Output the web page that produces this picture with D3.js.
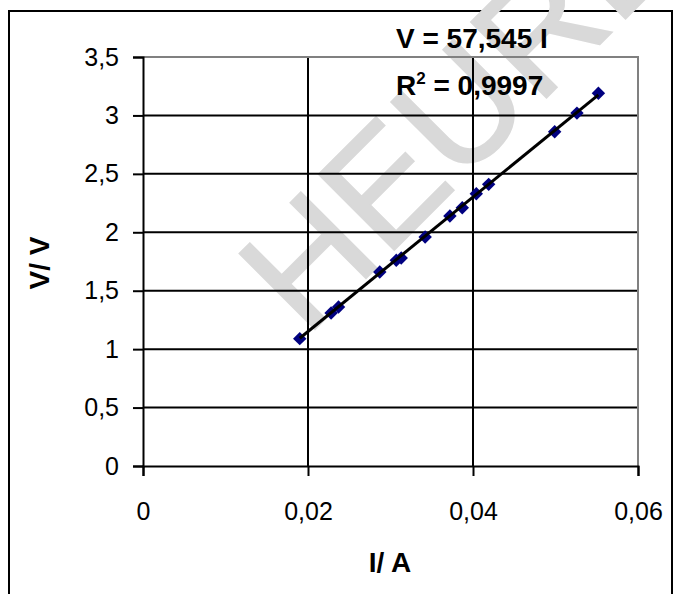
<!DOCTYPE html>
<html>
<head>
<meta charset="utf-8">
<script src="https://cdnjs.cloudflare.com/ajax/libs/d3/7.8.5/d3.min.js"></script>
<style>
  body { margin: 0; background: #fff; }
  svg text { font-family: "Liberation Sans", Arial, sans-serif; }
</style>
</head>
<body>
<div id="chart"></div>
<script>
// measured current (A) and voltage (V)
var current = [0.0190, 0.0228, 0.0237, 0.0287, 0.0307, 0.0313, 0.0342, 0.0372, 0.0387, 0.0404, 0.0419, 0.0499, 0.0526, 0.0552];
var voltage = [1.09, 1.31, 1.36, 1.66, 1.76, 1.78, 1.96, 2.14, 2.21, 2.33, 2.41, 2.86, 3.02, 3.19];
var xTicks = [0, 0.02, 0.04, 0.06];
var yTicks = [0, 0.5, 1, 1.5, 2, 2.5, 3, 3.5];
var slope = 57.545;
var rSquared = "0,9997";

var width = 678, height = 594;

var svg = d3.select('#chart').append('svg')
    .attr('width', width)
    .attr('height', height);

var x = d3.scaleLinear().domain([0, 0.06]).range([143, 638]);
var y = d3.scaleLinear().domain([0, 3.5]).range([466, 57]);

var comma = function(d) { return String(d).replace('.', ','); };

// outer frame
svg.append('rect')
    .attr('x', 9).attr('y', 11)
    .attr('width', 663).attr('height', 600)
    .attr('fill', '#fff')
    .attr('stroke', '#000')
    .attr('stroke-width', 2);

// watermark (behind the chart)
svg.append('text')
    .attr('transform', 'translate(306,338) rotate(-45)')
    .attr('font-size', 155)
    .attr('fill', '#d9d9d9')
    .attr('stroke', '#d9d9d9')
    .attr('stroke-width', 2)
    .text('HEUREKA');

// grid
svg.append('g').selectAll('line.h')
    .data(yTicks.filter(function(d) { return d > 0 && d < 3.5; }))
    .enter().append('line')
    .attr('x1', x(0)).attr('x2', x(0.06))
    .attr('y1', function(d) { return y(d); })
    .attr('y2', function(d) { return y(d); })
    .attr('stroke', '#000').attr('stroke-width', 2);

svg.append('g').selectAll('line.v')
    .data(xTicks.filter(function(d) { return d > 0 && d < 0.06; }))
    .enter().append('line')
    .attr('y1', y(0)).attr('y2', y(3.5))
    .attr('x1', function(d) { return x(d); })
    .attr('x2', function(d) { return x(d); })
    .attr('stroke', '#000').attr('stroke-width', 2);

// plot area border top/right
svg.append('path')
    .attr('d', 'M' + x(0) + ',' + y(3.5) + 'H' + x(0.06) + 'V' + y(0))
    .attr('fill', 'none')
    .attr('stroke', '#808080')
    .attr('stroke-width', 2);

// axes
var yAxis = svg.append('g')
    .attr('transform', 'translate(' + x(0) + ',0)')
    .call(d3.axisLeft(y).tickValues(yTicks).tickSize(10).tickPadding(14).tickFormat(comma));

var xAxis = svg.append('g')
    .attr('transform', 'translate(0,' + y(0) + ')')
    .call(d3.axisBottom(x).tickValues(xTicks).tickSize(10).tickPadding(26).tickFormat(comma));

[xAxis, yAxis].forEach(function(a) {
    a.select('.domain').attr('stroke', '#000').attr('stroke-width', 2);
    a.selectAll('.tick line').attr('stroke', '#000').attr('stroke-width', 2);
    a.selectAll('.tick text')
        .attr('fill', '#000')
        .attr('font-size', 25)
        .attr('font-family', '"Liberation Sans", Arial, sans-serif');
});

// axis titles
svg.append('text')
    .attr('x', 390).attr('y', 572)
    .attr('text-anchor', 'middle')
    .attr('font-size', 28).attr('font-weight', 'bold')
    .text('I/ A');

svg.append('text')
    .attr('transform', 'translate(49,263) rotate(-90)')
    .attr('text-anchor', 'middle')
    .attr('font-size', 28).attr('font-weight', 'bold')
    .text('V/ V');

// markers
var points = current.map(function(c, i) { return { i: c, v: voltage[i] }; });

svg.append('g').selectAll('path.pt')
    .data(points)
    .enter().append('path')
    .attr('class', 'pt')
    .attr('d', d3.symbol().type(d3.symbolSquare).size(90))
    .attr('transform', function(d) { return 'translate(' + x(d.i) + ',' + y(d.v) + ') rotate(45)'; })
    .attr('fill', '#000080');

// trend line
var iExt = d3.extent(current);
svg.append('line')
    .attr('x1', x(iExt[0])).attr('y1', y(slope * iExt[0]))
    .attr('x2', x(iExt[1])).attr('y2', y(slope * iExt[1]))
    .attr('stroke', '#000')
    .attr('stroke-width', 3);

// equation
svg.append('text')
    .attr('x', 396).attr('y', 48)
    .attr('font-size', 28).attr('font-weight', 'bold')
    .text('V = ' + comma(slope) + ' I');

var r2 = svg.append('text')
    .attr('x', 396).attr('y', 95)
    .attr('font-size', 28).attr('font-weight', 'bold');
r2.append('tspan').text('R');
r2.append('tspan').attr('font-size', 17).attr('dy', -11).text('2');
r2.append('tspan').attr('dy', 11).text(' = ' + rSquared);
</script>
</body>
</html>
